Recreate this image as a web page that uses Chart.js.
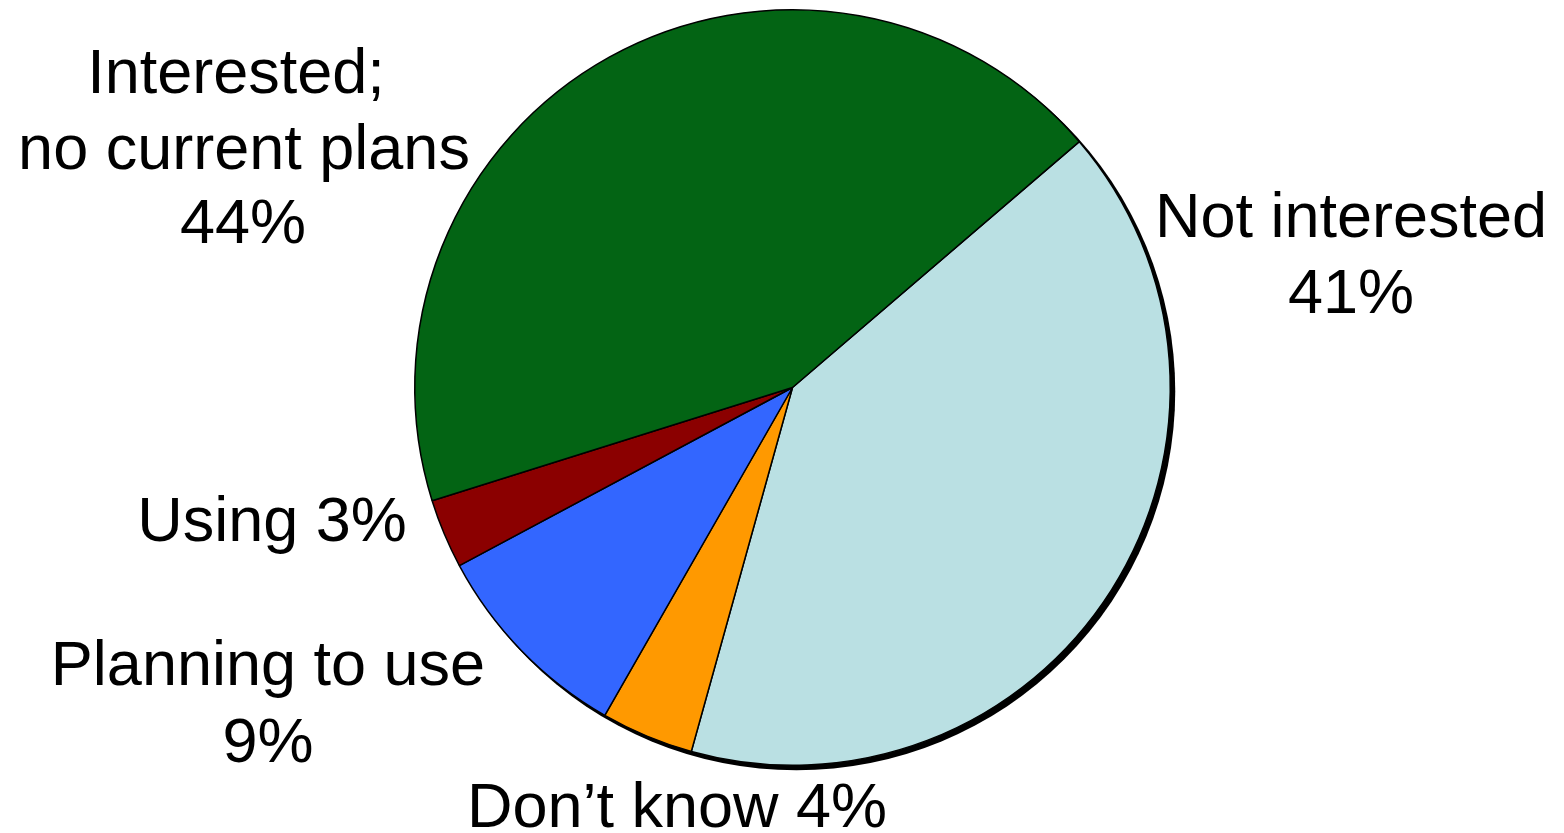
<!DOCTYPE html>
<html>
<head>
<meta charset="utf-8">
<script src="https://cdn.jsdelivr.net/npm/chart.js@4"></script>
<style>
  html, body { margin: 0; padding: 0; background: #fff; }
  #wrap { width: 1564px; height: 833px; position: relative; }
</style>
</head>
<body>
<div id="wrap"><canvas id="pie"></canvas></div>
<script>
// Data, clockwise from the upper-right edge
const categories = ['Not interested', 'Don\u2019t know', 'Planning to use', 'Using', 'Interested; no current plans'];
const shares = [41, 4, 9, 3, 44];
const sliceColors = ['#bae0e3', '#ff9900', '#3366ff', '#8b0000', '#036414'];

// label lines, {v} gets the share
const labelLines = [
    ['Not interested', '{v}%'],
    ['Don\u2019t know {v}%'],
    ['Planning to use', '{v}%'],
    ['Using {v}%'],
    ['Interested;', 'no current plans', '{v}%']
];

// where each label sits (center x, baseline y per line)
const labelPos = [
    { x: [1351, 1351], y: [237, 313] },
    { x: [677], y: [827] },
    { x: [268, 268], y: [685, 762] },
    { x: [272], y: [541] },
    { x: [236, 244, 243], y: [93, 169, 243] }
];

const FONT = '63px "Liberation Sans", Arial, sans-serif';

// solid black drop shadow behind the pie
const pieShadow = {
    id: 'pieShadow',
    beforeDatasetsDraw(chart) {
        const arc = chart.getDatasetMeta(0).data[0];
        if (!arc) return;
        const ctx = chart.ctx;
        ctx.save();
        ctx.fillStyle = '#000';
        ctx.beginPath();
        ctx.arc(arc.x + 4, arc.y + 4, arc.outerRadius + 1, 0, Math.PI * 2);
        ctx.fill();
        ctx.restore();
    }
};

const sliceLabels = {
    id: 'sliceLabels',
    afterDraw(chart) {
        const ctx = chart.ctx;
        ctx.save();
        ctx.font = FONT;
        ctx.fillStyle = '#000';
        ctx.textAlign = 'center';
        ctx.textBaseline = 'alphabetic';
        labelLines.forEach((lines, i) => {
            lines.forEach((line, j) => {
                const txt = line.replace('{v}', shares[i]);
                ctx.fillText(txt, labelPos[i].x[j], labelPos[i].y[j]);
            });
        });
        ctx.restore();
    }
};

new Chart(document.getElementById('pie'), {
    type: 'pie',
    data: {
        labels: categories,
        datasets: [{
            data: shares,
            backgroundColor: sliceColors,
            borderColor: '#000',
            borderWidth: 1.5,
            borderAlign: 'center'
        }]
    },
    options: {
        responsive: true,
        maintainAspectRatio: false,
        animation: false,
        rotation: 49.4,
        layout: { padding: { left: 414, right: 393, top: 9, bottom: 67 } },
        plugins: {
            legend: { display: false },
            tooltip: { enabled: false }
        }
    },
    plugins: [pieShadow, sliceLabels]
});
</script>
</body>
</html>
